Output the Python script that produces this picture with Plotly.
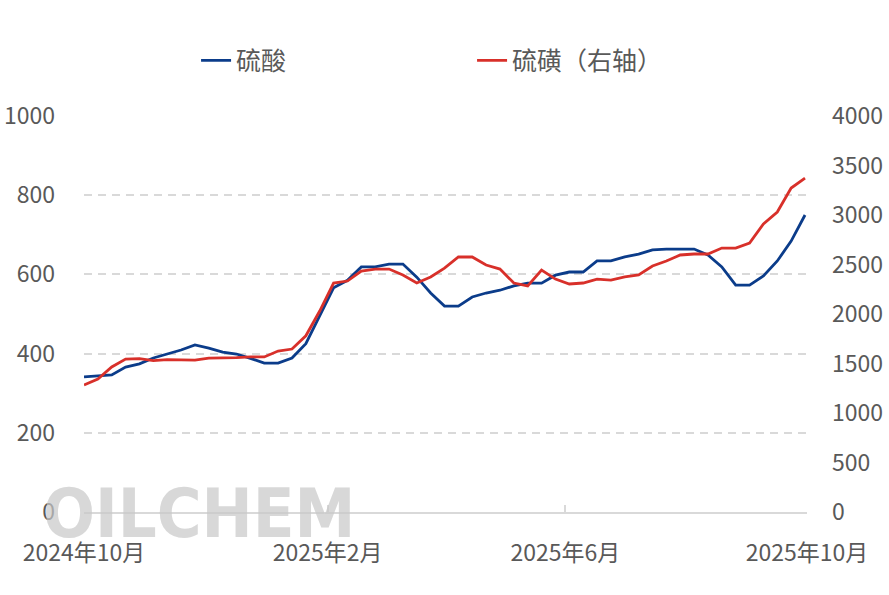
import pandas as pd
import plotly.graph_objects as go

# Weekly observations (start date + count)
start_date = "2024-10-01"
n_weeks = 53
dates = pd.date_range(start_date, periods=n_weeks, freq="7D")

# 硫酸 (left axis)
sulfuric_acid = [341, 343, 346, 366, 374, 389, 399, 409, 422, 414,
                 404, 399, 388, 376, 376, 389, 425, 495, 566, 585,
                 619, 619, 626, 626, 593, 553, 520, 520, 543, 553,
                 560, 571, 578, 578, 598, 606, 606, 634, 634, 644,
                 651, 662, 664, 664, 664, 649, 619, 573, 573, 596,
                 634, 684, 750]

# 硫磺 (right axis)
sulfur = [1283, 1343, 1465, 1545, 1550, 1530, 1540, 1535, 1535, 1555,
          1555, 1560, 1566, 1566, 1626, 1646, 1780, 2030, 2313, 2333,
          2434, 2454, 2454, 2394, 2313, 2374, 2464, 2576, 2576, 2495,
          2454, 2313, 2283, 2444, 2353, 2303, 2313, 2353, 2343, 2374,
          2394, 2485, 2535, 2596, 2606, 2606, 2666, 2666, 2717, 2909,
          3030, 3272, 3373]

x_ticks = ["2024-10-01", "2025-02-01", "2025-06-01", "2025-10-01"]
x_ticktext = ["2024年10月", "2025年2月", "2025年6月", "2025年10月"]

FONT = "Noto Sans CJK SC"
TXT = "#595959"
GRID = "#d9d9d9"

fig = go.Figure()
fig.add_trace(go.Scatter(x=dates, y=sulfuric_acid, name="硫酸", mode="lines",
                         line=dict(color="#0b3c8a", width=2.8)))
fig.add_trace(go.Scatter(x=dates, y=sulfur, name="硫磺（右轴）", mode="lines",
                         yaxis="y2", line=dict(color="#d8302a", width=2.8)))

fig.add_annotation(text="OILCHEM", xref="paper", yref="paper",
                   x=-0.06, y=-0.005, xanchor="left", yanchor="middle",
                   showarrow=False,
                   font=dict(family="DejaVu Sans Condensed, Liberation Sans", size=68,
                             color="rgba(200,200,200,0.7)", weight="bold"))

fig.update_layout(
    width=889, height=595,
    margin=dict(l=84, r=82, t=116, b=83),
    paper_bgcolor="white", plot_bgcolor="white",
    font=dict(family=FONT, color=TXT, size=23),
    showlegend=True,
    legend=dict(orientation="h", x=0.155, y=1.14, xanchor="left", yanchor="middle",
                font=dict(size=25, color=TXT), entrywidth=231, entrywidthmode="pixels",
                bgcolor="rgba(0,0,0,0)"),
    xaxis=dict(type="date", range=["2024-10-01", "2025-10-01"],
               tickvals=x_ticks, ticktext=x_ticktext, automargin=False,
               showgrid=False, showline=True, linecolor=GRID, linewidth=1.5,
               ticks="inside", ticklen=7, tickcolor=GRID, tickwidth=1.5,
               ticklabelstandoff=20, tickfont=dict(size=23, color=TXT)),
    yaxis=dict(range=[0, 1000], dtick=200, showgrid=True, gridcolor=GRID,
               griddash="8px,6px", gridwidth=1.5, zeroline=False, automargin=False,
               showline=False, ticks="", ticklabelstandoff=28,
               tickfont=dict(size=23, color=TXT)),
    yaxis2=dict(range=[0, 4000], dtick=500, overlaying="y", side="right",
                showgrid=False, zeroline=False, showline=False, ticks="",
                automargin=False, ticklabelstandoff=24,
                tickfont=dict(size=23, color=TXT)),
)

fig.write_html("out.html", config={"displayModeBar": False},
               post_script="document.body.style.margin='0';document.body.style.overflow='hidden';")
